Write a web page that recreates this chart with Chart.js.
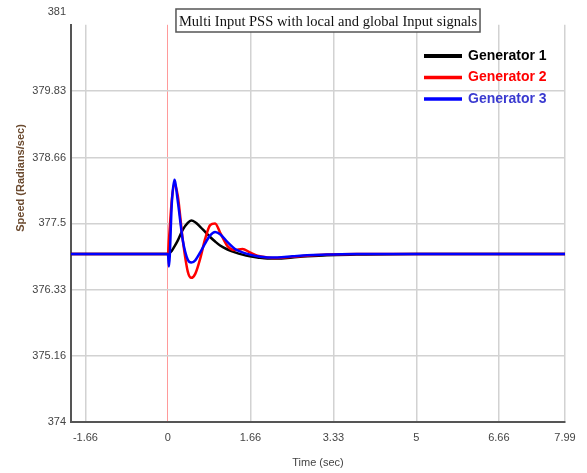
<!DOCTYPE html>
<html><head><meta charset="utf-8">
<script src="https://cdn.jsdelivr.net/npm/chart.js@4"></script>
<style>html,body{margin:0;padding:0;background:#fff;}#wrap{position:relative;width:587px;height:473px;}</style>
</head><body><div id="wrap"><canvas id="c" width="587" height="473"></canvas></div>
<script>
const chartTitle = "Multi Input PSS with local and global Input signals";
const xAxisTitle = "Time (sec)";
const yAxisTitle = "Speed (Radians/sec)";
const seriesNames = ["Generator 1", "Generator 2", "Generator 3"];
const timeSec = [-1.95, 0, 0.02, 0.08, 0.13, 0.2, 0.3, 0.4, 0.47, 0.55, 0.65, 0.75, 0.85, 0.95, 1.05, 1.2, 1.35, 1.5, 1.65, 1.8, 2.0, 2.2, 2.5, 2.8, 3.2, 3.8, 5, 6.5, 7.99];
const gen1 = [376.96, 376.96, 376.97, 377.02, 377.09, 377.2, 377.39, 377.51, 377.55, 377.52, 377.44, 377.35, 377.26, 377.18, 377.11, 377.04, 376.99, 376.95, 376.92, 376.9, 376.88, 376.88, 376.9, 376.92, 376.94, 376.95, 376.96, 376.96, 376.96];
const gen2 = [376.96, 376.96, 377.2, 377.93, 378.2, 377.98, 377.2, 376.65, 376.54, 376.61, 376.88, 377.23, 377.47, 377.5, 377.34, 377.1, 377.03, 377.05, 376.99, 376.93, 376.9, 376.89, 376.91, 376.93, 376.95, 376.96, 376.96, 376.96, 376.96];
const gen3 = [376.96, 376.96, 376.74, 377.88, 378.27, 377.88, 377.2, 376.86, 376.81, 376.85, 376.99, 377.15, 377.29, 377.35, 377.31, 377.17, 377.05, 376.99, 376.95, 376.92, 376.9, 376.9, 376.92, 376.94, 376.95, 376.96, 376.96, 376.96, 376.96];
const xTicks = [-1.66, 0, 1.66, 3.33, 5, 6.66, 7.99];
const yTicks = [374, 375.16, 376.33, 377.5, 378.66, 379.83, 381];

const seriesValues = [gen1, gen2, gen3];
const lineColors = ['#000000', '#ff0000', '#0000ff'];
const textColors = ['#000000', '#ff0000', '#3a3ad0'];

const datasets = seriesNames.map((name, i) => ({
  label: name,
  data: timeSec.map((t, k) => ({x: t, y: seriesValues[i][k]})),
  borderColor: lineColors[i],
  backgroundColor: lineColors[i],
  borderWidth: 2.5,
  pointRadius: 0,
  cubicInterpolationMode: 'monotone',
  fill: false,
  order: 2 - i
}));

const decor = {
  id: 'decor',
  afterDraw(chart) {
    const ctx = chart.ctx;
    ctx.save();
    // title box
    ctx.font = '14.5px "Liberation Serif", "Times New Roman", serif';
    ctx.textAlign = 'center';
    ctx.textBaseline = 'middle';
    const tw = ctx.measureText(chartTitle).width;
    const cx = 328, cy = 21;
    ctx.fillStyle = '#fff';
    ctx.fillRect(cx - tw/2 - 3, 9, tw + 6, 23);
    ctx.strokeStyle = '#555';
    ctx.lineWidth = 1.5;
    ctx.strokeRect(cx - tw/2 - 3, 9, tw + 6, 23);
    ctx.fillStyle = '#111';
    ctx.fillText(chartTitle, cx, cy + 1);
    // legend
    chart.data.datasets.forEach((ds, i) => {
      const y = 56 + i * 21.5;
      ctx.strokeStyle = ds.borderColor;
      ctx.lineWidth = i === 0 ? 4 : 3.5;
      ctx.beginPath();
      ctx.moveTo(424, y);
      ctx.lineTo(462, y);
      ctx.stroke();
      ctx.font = 'bold 14px "Liberation Sans", Arial, sans-serif';
      ctx.textAlign = 'left';
      ctx.fillStyle = textColors[i];
      ctx.fillText(ds.label, 468, y);
    });
    // y axis title
    ctx.translate(21, 178);
    ctx.rotate(-Math.PI / 2);
    ctx.font = 'bold 11px "Liberation Sans", Arial, sans-serif';
    ctx.textAlign = 'center';
    ctx.fillStyle = '#6b4a2f';
    ctx.fillText(yAxisTitle, 0, 0);
    ctx.restore();
  }
};

new Chart(document.getElementById('c'), {
  type: 'line',
  data: {datasets},
  options: {
    responsive: false,
    animation: false,
    devicePixelRatio: 1,
    layout: {padding: {left: 0, right: 22, top: 24, bottom: 0}},
    plugins: {legend: {display: false}, title: {display: false}, tooltip: {enabled: false}},
    scales: {
      x: {
        type: 'linear',
        min: -1.95,
        max: 7.99,
        afterBuildTicks: (s) => { s.ticks = xTicks.map(v => ({value: v})); },
        afterFit: (s) => { s.height = 51; },
        ticks: {
          callback: (v) => String(v),
          color: '#444',
          padding: 9,
          maxRotation: 0,
          autoSkip: false,
          font: {family: '"Liberation Sans", Arial, sans-serif', size: 11}
        },
        grid: {
          drawTicks: false,
          color: (c) => (c.tick && c.tick.value === 0) ? '#ff9a9a' : '#d2d2d2',
          lineWidth: (c) => (c.tick && c.tick.value === 0) ? 1 : 1.5
        },
        border: {color: '#555', width: 2},
        title: {
          display: true,
          text: xAxisTitle,
          color: '#444',
          padding: {top: 0, bottom: 3},
          font: {family: '"Liberation Sans", Arial, sans-serif', size: 11}
        }
      },
      y: {
        type: 'linear',
        min: 374,
        max: 381,
        afterBuildTicks: (s) => { s.ticks = yTicks.map(v => ({value: v})); },
        afterFit: (s) => { s.width = 71; },
        ticks: {
          callback: (v) => v === 381 ? ['381', '', ''] : String(v),
          color: '#444',
          padding: 5,
          autoSkip: false,
          font: {family: '"Liberation Sans", Arial, sans-serif', size: 11}
        },
        grid: {
          drawTicks: false,
          color: (c) => (c.tick && c.tick.value === 381) ? 'rgba(0,0,0,0)' : '#d2d2d2',
          lineWidth: 1.5
        },
        border: {color: '#555', width: 2}
      }
    }
  },
  plugins: [decor]
});
</script>
</body></html>
